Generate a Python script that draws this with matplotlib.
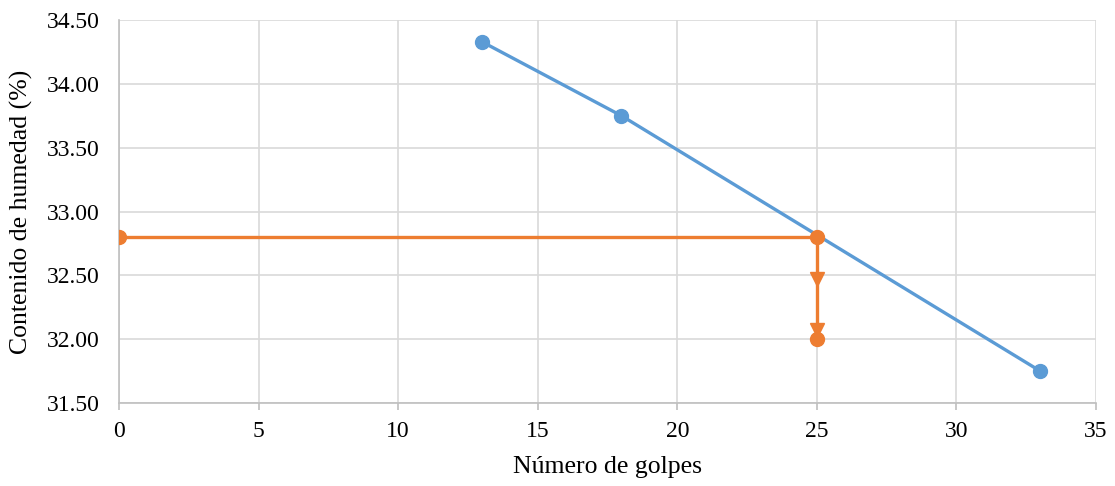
import numpy as np
import matplotlib.pyplot as plt
import matplotlib as mpl

mpl.rcParams['font.family'] = ['Liberation Serif', 'DejaVu Serif']

# datos
golpes = [13, 18, 33]
humedad = [34.33, 33.75, 31.75]

lim_x = [0, 25, 25]
lim_y = [32.80, 32.80, 32.00]
flecha_x = [25, 25]
flecha_y = [32.47, 32.07]

xticks = np.arange(0, 36, 5)
yticks = np.arange(31.5, 34.51, 0.5)

azul = '#5B9BD5'
naranja = '#ED7D31'
gris = '#D9D9D9'

fig = plt.figure(figsize=(11.15, 4.86), dpi=100)
ax = fig.add_axes([0.1067, 0.1708, 0.8763, 0.788])

ax.plot(golpes, humedad, color=azul, lw=2.4, marker='o', ms=10, zorder=3)
ax.plot(lim_x, lim_y, color=naranja, lw=2.4, marker='o', ms=10, zorder=4)
ax.plot(flecha_x, flecha_y, ls='none', marker='v', ms=10, color=naranja, zorder=4)

ax.set_xlim(0, 35)
ax.set_ylim(31.5, 34.5)
ax.set_xticks(xticks)
ax.set_yticks(yticks)
ax.set_yticklabels(['%.2f' % v for v in yticks])
ax.grid(True, color=gris, lw=1.2)
ax.set_axisbelow(True)

for s in ['top', 'right']:
    ax.spines[s].set_visible(False)
for s in ['left', 'bottom']:
    ax.spines[s].set_color('#BFBFBF')
    ax.spines[s].set_linewidth(1.2)

ax.tick_params(axis='both', labelsize=17, colors='#BFBFBF', labelcolor='black')
ax.tick_params(axis='x', length=5, width=1.2, pad=8)
ax.tick_params(axis='y', length=0, pad=14)

ax.set_xlabel('Número de golpes', fontsize=18.5, labelpad=10)
ax.set_ylabel('Contenido de humedad (%)', fontsize=18.5, labelpad=10)

plt.savefig('out.png', dpi=100)
